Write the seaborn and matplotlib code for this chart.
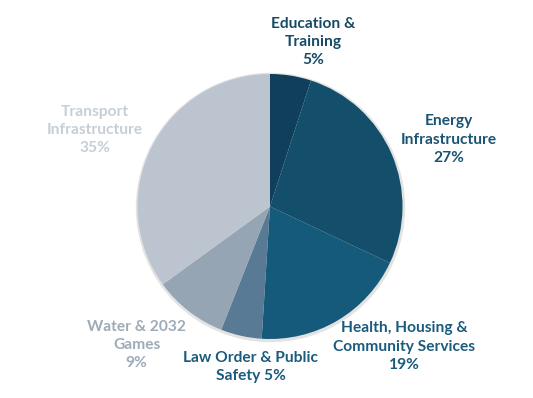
import matplotlib
matplotlib.use("Agg")
import matplotlib.pyplot as plt
import seaborn as sns

# ── data ─────────────────────────────────────────────────────────────────────
categories = ["Education &\nTraining", "Energy\nInfrastructure",
              "Health, Housing &\nCommunity Services", "Law Order & Public\nSafety",
              "Water & 2032\nGames", "Transport\nInfrastructure"]
shares = [5, 27, 19, 5, 9, 35]
pct_sep = ["\n", "\n", "\n", " ", "\n", "\n"]  # how the % sits after the name

# ── style / layout ───────────────────────────────────────────────────────────
slice_colors = ["#0f3f5a", "#134f6a", "#165a7b", "#587a94", "#95a5b4", "#bcc5cf"]
label_colors = ["#174a66", "#1a5472", "#1b5b7c", "#1b5b7c", "#9eabb8", "#c6ced6"]
# label centres in pixel coords (top-left origin)
label_xy = [(313, 42), (449, 139.5), (404, 346.5), (250.5, 367), (136.5, 345), (94.5, 130)]

W, H = 533, 398
CENTER = (270, H - 206.5)
RADIUS = 132.5

sns.set_theme(style="white")
plt.rcParams["font.family"] = ["Lato", "DejaVu Sans"]

fig = plt.figure(figsize=(W / 100, H / 100), dpi=100)
ax = fig.add_axes([0, 0, 1, 1])
ax.set_xlim(0, W)
ax.set_ylim(0, H)
ax.set_aspect("equal")
ax.axis("off")

# soft shadow ring behind the pie
shadow = plt.Circle((CENTER[0] + 0.5, CENTER[1] - 1), RADIUS + 1.5,
                    color="#e3e3e3", zorder=0)
ax.add_patch(shadow)

ax.pie(shares, colors=slice_colors, startangle=90, counterclock=False,
       center=CENTER, radius=RADIUS, frame=False,
       wedgeprops=dict(linewidth=0))
ax.set_xlim(0, W)
ax.set_ylim(0, H)

for name, val, sep, col, (x, y) in zip(categories, shares, pct_sep, label_colors, label_xy):
    ax.text(x, H - y, f"{name}{sep}{val}%", ha="center", va="center",
            fontsize=11.2, fontweight="bold", color=col, linespacing=1.38)

fig.savefig("out.png", dpi=100)
